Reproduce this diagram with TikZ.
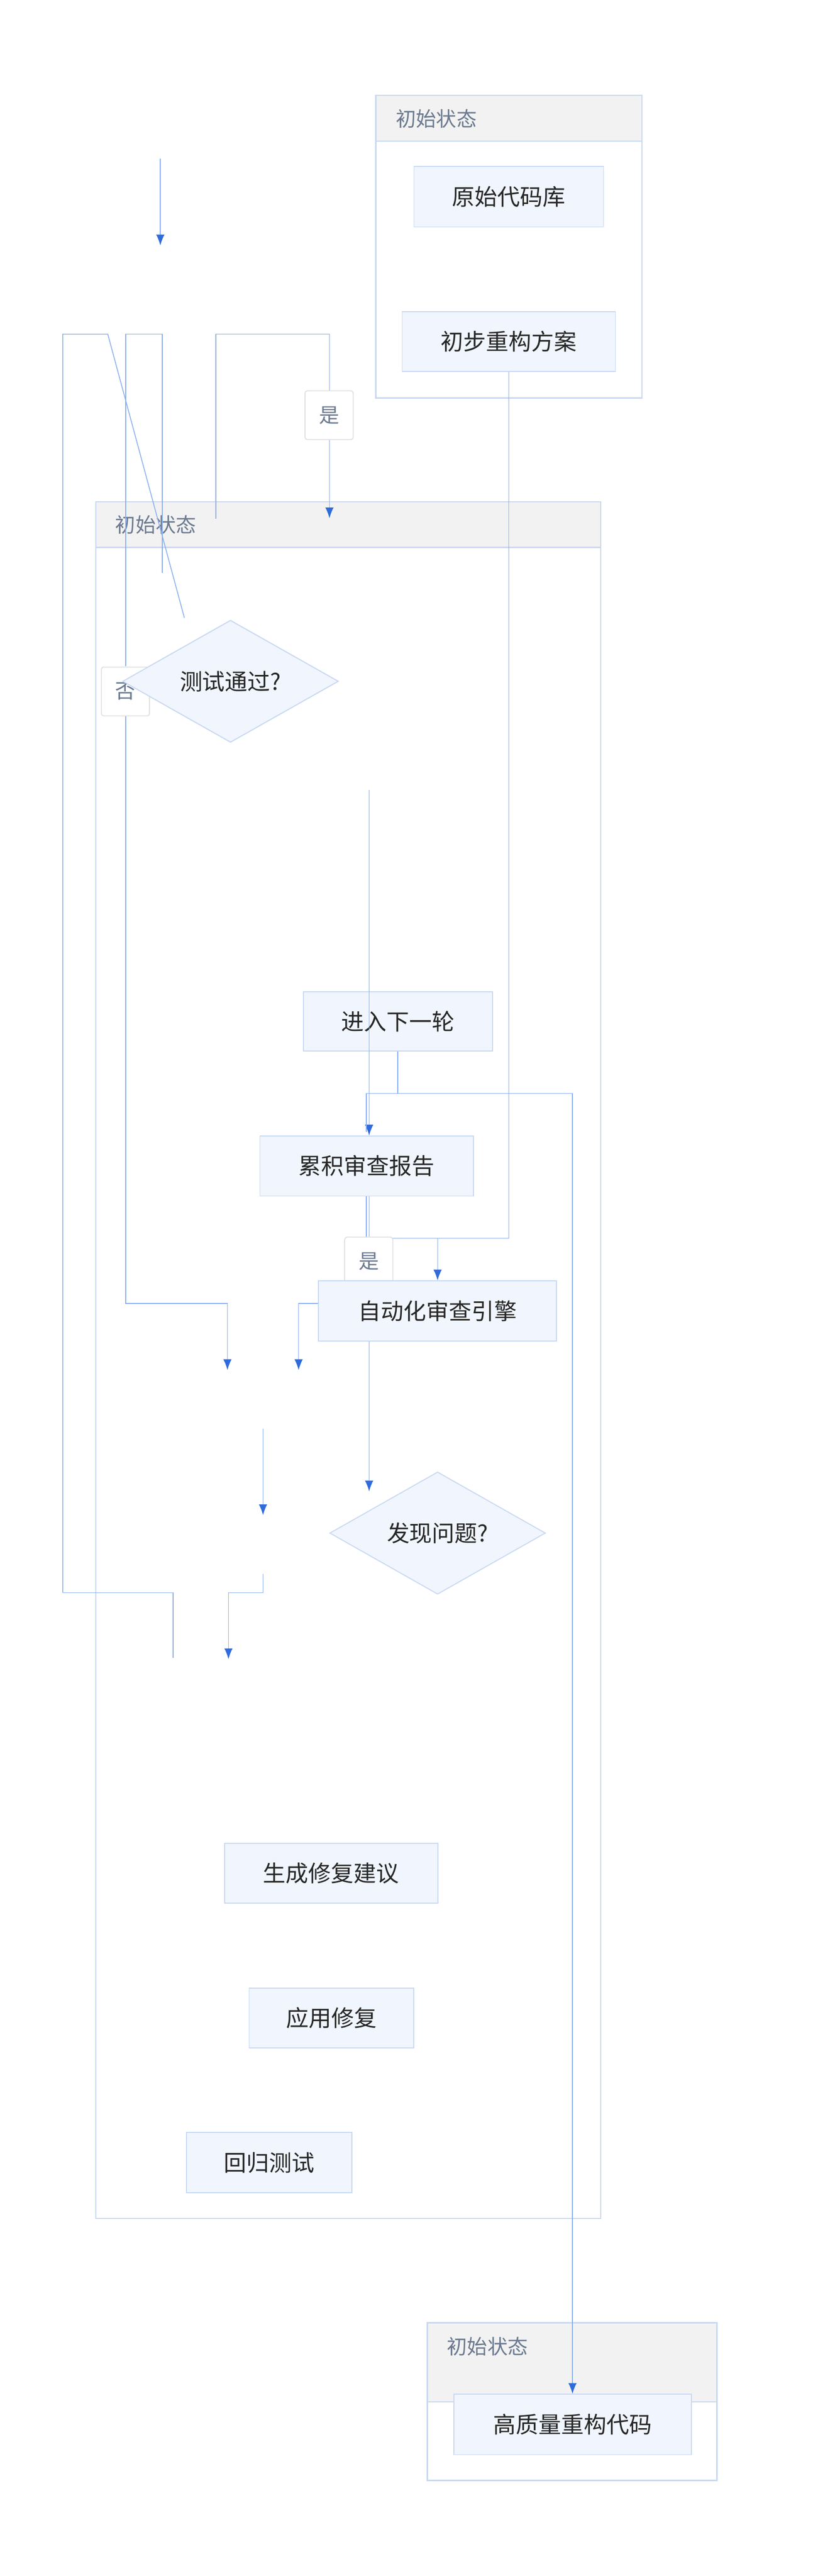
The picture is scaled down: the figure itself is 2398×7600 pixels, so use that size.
\documentclass[tikz,border=0pt]{standalone}
\usepackage{fontspec}
\setmainfont{Noto Sans CJK SC}
\usetikzlibrary{arrows.meta,shapes.geometric}
\definecolor{boxfill}{HTML}{F0F5FE}
\definecolor{boxline}{HTML}{C8D8F2}
\definecolor{edgeline}{HTML}{8AAEEF}
\definecolor{tipblue}{HTML}{2F6BDB}
\definecolor{headfill}{HTML}{F2F2F2}
\definecolor{headtext}{HTML}{6B7A90}
\tikzset{
  box/.style={draw=boxline, fill=boxfill, line width=0.8pt, font=\fontsize{19}{22}\selectfont, text=black!85},
  dia/.style={diamond, aspect=1, draw=boxline, fill=boxfill, line width=0.8pt, inner sep=0pt, minimum width=6.36cm, font=\fontsize{19}{22}\selectfont, text=black!85},
  cluster/.style={draw=boxline, line width=1pt},
  head/.style={draw=boxline, fill=headfill, line width=1pt},
  headlbl/.style={anchor=west, text=headtext, font=\fontsize{17}{20}\selectfont},
  edge/.style={draw=edgeline, line width=0.7pt},
  flow/.style={edge, -{Latex[length=9pt,width=7pt,color=tipblue]}},
  lbl/.style={draw=black!12, fill=white, rounded corners=2pt, line width=0.8pt, minimum width=1.42cm, minimum height=1.44cm, text=headtext, font=\fontsize{17}{20}\selectfont}
}
\begin{document}
\begin{tikzpicture}[x=0.01cm, y=-0.01cm]
    \useasboundingbox (0,0) rectangle (2398,7600);
    % clusters
    \draw[cluster] (1109,281) rectangle (1894,1174);
    \draw[head] (1109,281) rectangle (1894,416);
    \node[headlbl] (t1) at (1155,350) {初始状态};
    \draw[cluster] (283,1480) rectangle (1772,6545);
    \draw[head] (283,1480) rectangle (1772,1615);
    \node[headlbl] (t2) at (328,1548) {初始状态};
    \draw[cluster] (1261,6853) rectangle (2115,7318);
    \draw[head] (1261,6853) rectangle (2115,7086);
    \node[headlbl] (t3) at (1306,6922) {初始状态};

    % free ends
    \coordinate (s0) at (473,468);
    \coordinate (s1) at (473,724);
    \coordinate (c1) at (972,1529);
    \coordinate (l2) at (1089,2558);
    \coordinate (a1) at (671,4042);
    \coordinate (a2) at (881,4042);
    \coordinate (a3) at (776,4215);
    \coordinate (a4) at (776,4470);
    \coordinate (a5) at (776,4643);
    \coordinate (a6) at (674,4895);
    \coordinate (a7) at (511,4891);

    % edges
    \draw[flow] (s0) -- (s1);
    \draw[edge] (185,4699) -- (185,986) -- (318,986) -- (544,1823);
    \draw[edge] (371,1966) -- (371,986) -- (479,986) -- (479,1690);
    \draw[flow] (637,1530) -- (637,986) -- (972,986) -- (c1);
    \draw[edge] (185,4699) -- (511,4699) -- (a7);
    \draw[flow] (371,2113) -- (371,3846) -- (671,3846) -- (a1);
    \draw[flow] (a5) -- (776,4699) -- (674,4699) -- (a6);
    \draw[flow] (a3) -- (a4);

    % nodes
    \node[box, minimum width=5.59cm, minimum height=1.79cm] (orig) at (1501,580) {原始代码库};
    \node[box, minimum width=6.29cm, minimum height=1.77cm] (plan) at (1501,1008) {初步重构方案};
    \node[dia] (test) at (680,2010) {测试通过?};
    \node[box, minimum width=5.57cm, minimum height=1.75cm] (next) at (1174,3013) {进入下一轮};
    \node[box, minimum width=6.30cm, minimum height=1.77cm] (report) at (1082,3440) {累积审查报告};
    \node[box, minimum width=7.02cm, minimum height=1.78cm] (engine) at (1291,3868) {自动化审查引擎};
    \node[dia] (issue) at (1291,4523) {发现问题?};
    \node[box, minimum width=6.29cm, minimum height=1.76cm] (fix) at (977,5527) {生成修复建议};
    \node[box, minimum width=4.86cm, minimum height=1.76cm] (apply) at (978,5954) {应用修复};
    \node[box, minimum width=4.87cm, minimum height=1.78cm] (retest) at (794,6380) {回归测试};
    \node[box, minimum width=7.00cm, minimum height=1.78cm] (final) at (1689,7153) {高质量重构代码};

    % connectors between nodes
    \draw[flow] (l2) -- (l2 |- report.north);
    \draw[flow] (next.south -| 1173,0) -- (1173,3226) -- (1689,3226) -- (final.north -| 1689,0);
    \draw[edge] (1173,3226) -- (1081,3226) -- (1081,3340);
    \draw[flow] (plan.south) -- (1501,3653) -- (1291,3653) -- (engine.north);
    \draw[edge] (1501,3653) -- (1081,3653) -- (1081,3529);
    \draw[edge] (1089,3529) -- (1089,3653);
    \node[lbl] (yes2) at (1088,3722) {是};
    \node[box, minimum width=7.02cm, minimum height=1.78cm] at (engine) {自动化审查引擎};
    \draw[flow] (engine.west |- 0,3846) -- (881,3846) -- (a2);
    \draw[flow] (engine.south -| 1089,0) -- (1089,4400);
    \node[lbl] (yes1) at (971,1225) {是};
    \node[lbl] (no1) at (370,2040) {否};
    \node[dia] at (test) {测试通过?};
    \draw[edge] (1089,2330) -- (l2);
\end{tikzpicture}
\end{document}
